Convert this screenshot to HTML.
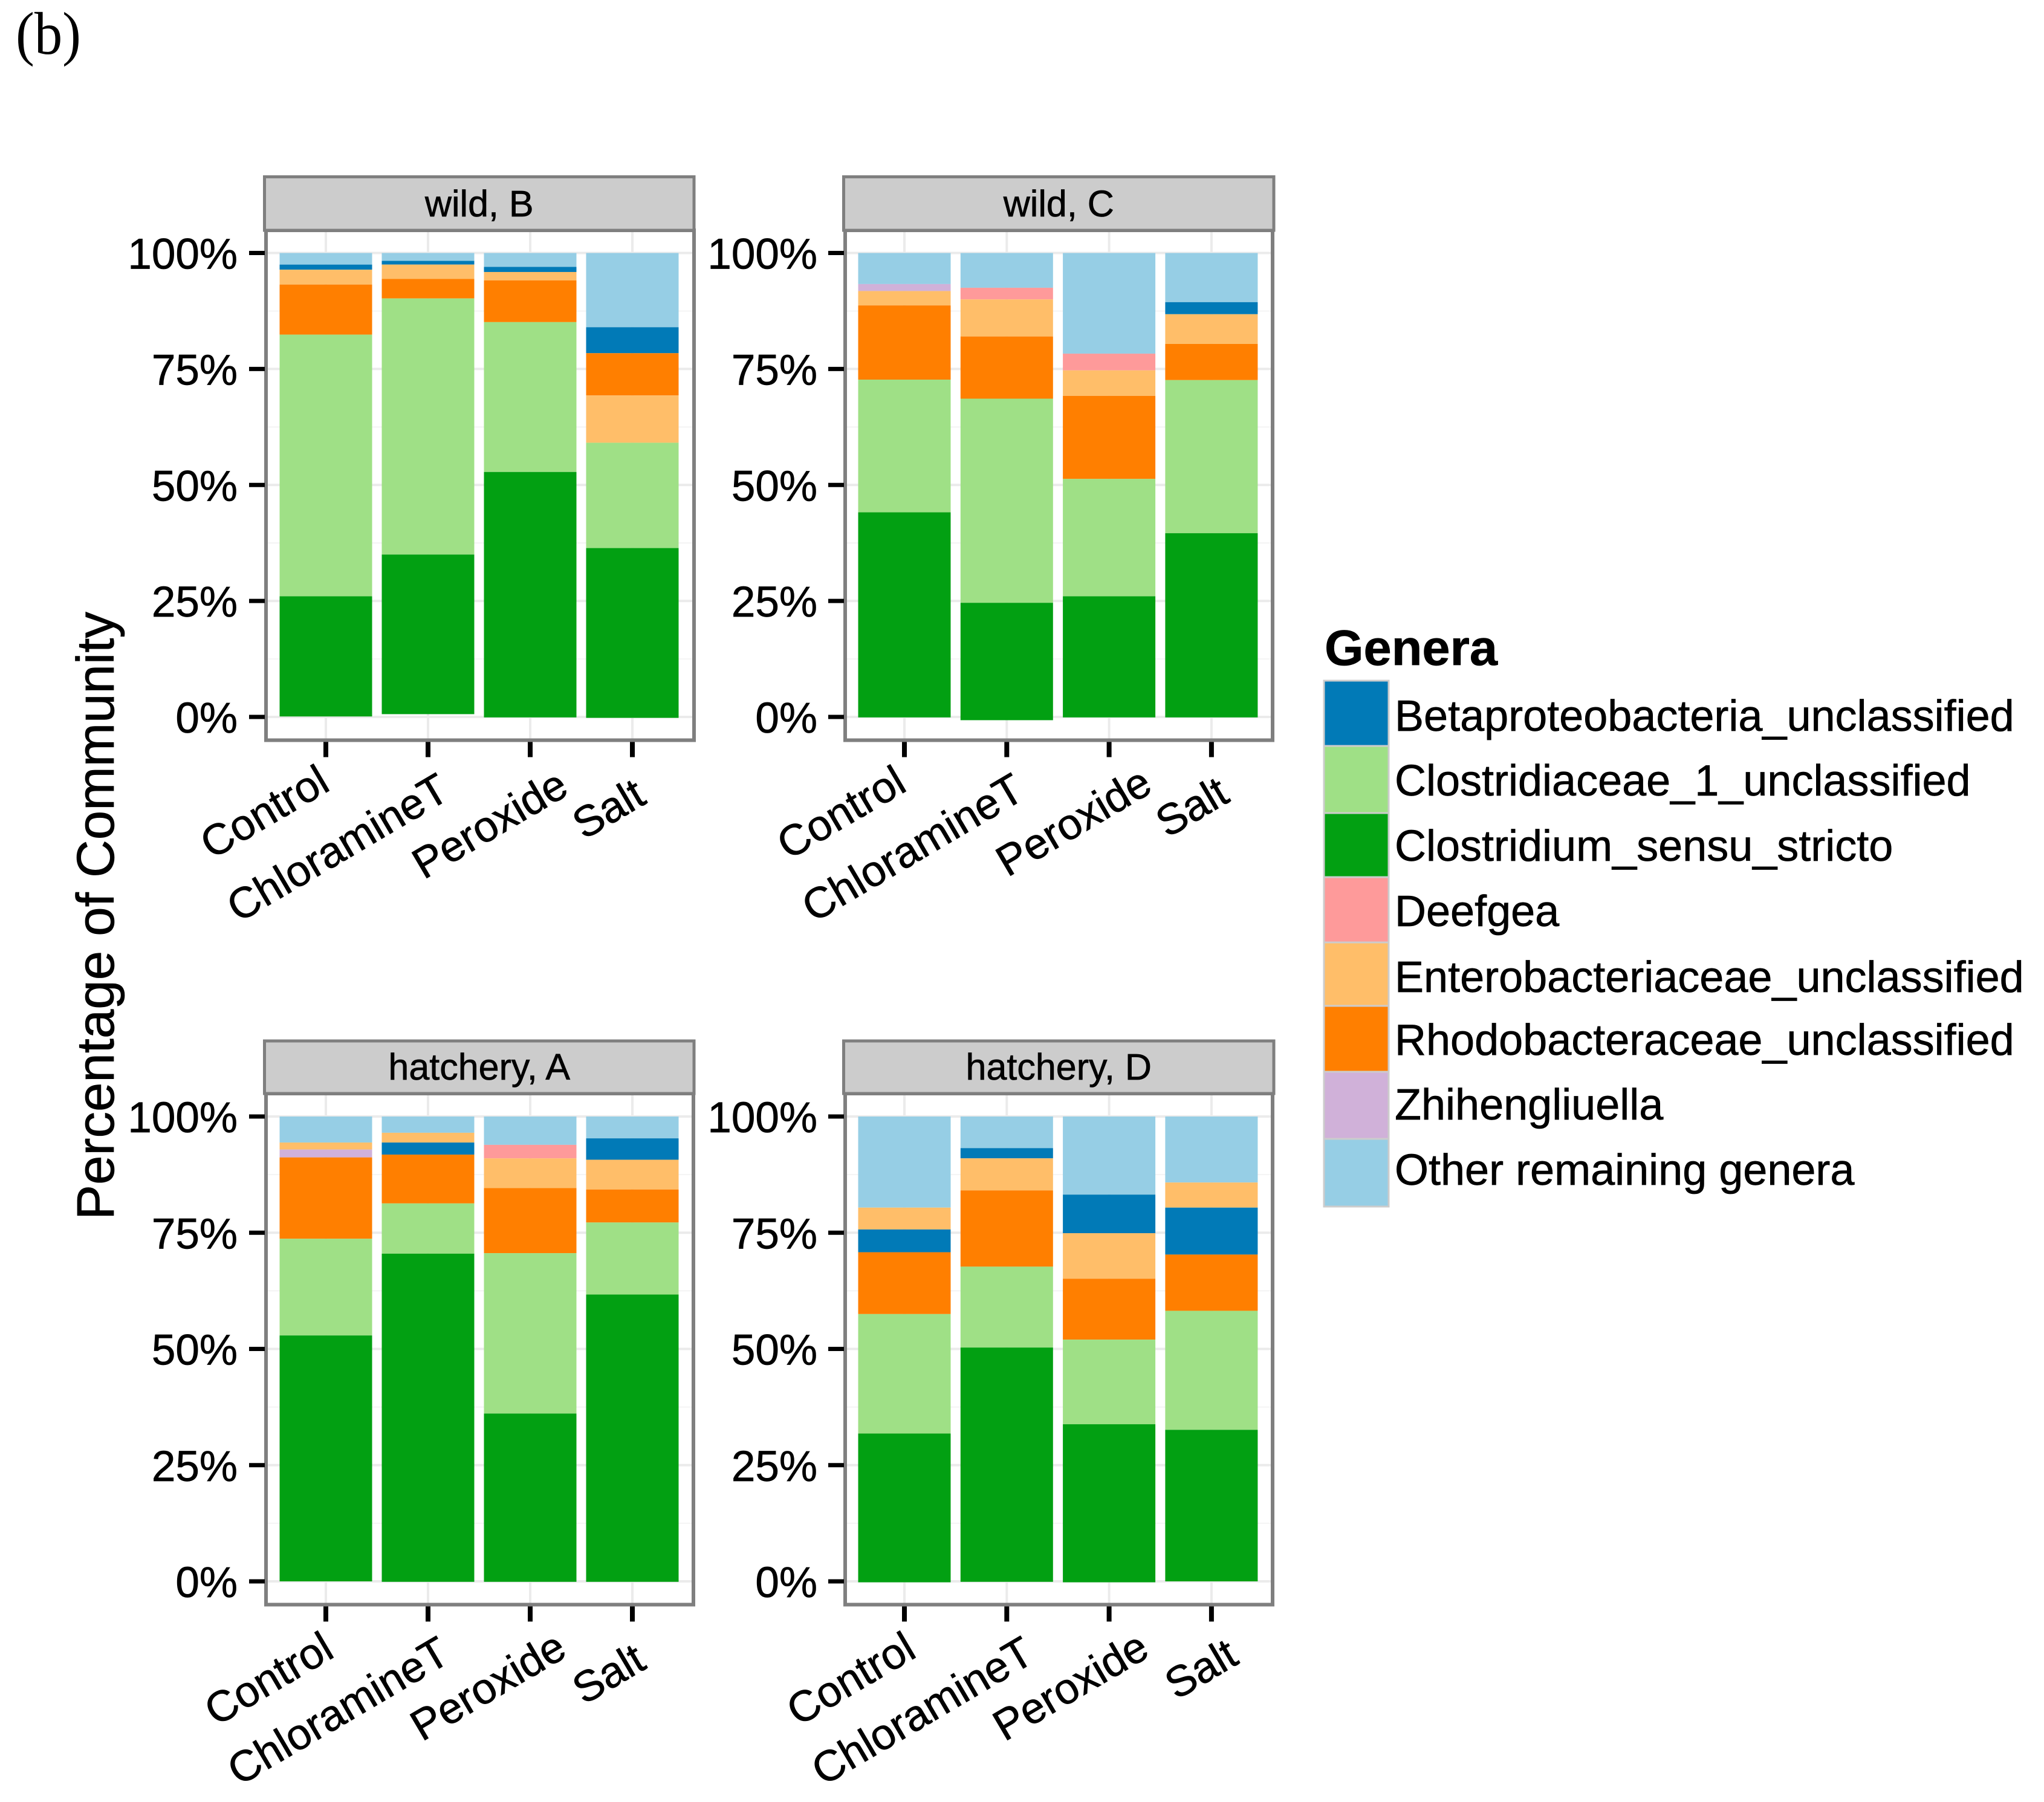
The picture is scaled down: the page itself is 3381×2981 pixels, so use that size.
<!DOCTYPE html>
<html lang="en">
<head>
<meta charset="utf-8">
<title>Genera composition by treatment</title>
<style>
  html, body { margin: 0; padding: 0; background: #ffffff; }
  svg { display: block; }
  text { font-family: "Liberation Sans", sans-serif; fill: #000000; stroke: #000000; stroke-width: 0.7px; }
</style>
</head>
<body>
<svg id="chart" xmlns="http://www.w3.org/2000/svg" width="3381" height="2981" viewBox="0 0 3381 2981">
  <rect x="0" y="0" width="3381" height="2981" fill="#ffffff"/>
  <text x="26" y="89" font-size="100" textLength="108" lengthAdjust="spacingAndGlyphs" style="font-family:'Liberation Serif',serif;stroke-width:0">(b)</text>
  <text transform="translate(188 1515) rotate(-90)" text-anchor="middle" font-size="87">Percentage of Community</text>
</svg>
<script>
// ---- Data (percent of community) ----
const categories = ['Control', 'ChloramineT', 'Peroxide', 'Salt'];
const yTickValues = [0, 25, 50, 75, 100];
const yMinorValues = [12.5, 37.5, 62.5, 87.5];
const legendKeys = ['beta', 'light', 'dark', 'deef', 'entero', 'rhodo', 'zhi', 'other'];
const legendLabels = ['Betaproteobacteria_unclassified', 'Clostridiaceae_1_unclassified', 'Clostridium_sensu_stricto', 'Deefgea', 'Enterobacteriaceae_unclassified', 'Rhodobacteraceae_unclassified', 'Zhihengliuella', 'Other remaining genera'];

// wild, B
const wildB_other  = [2.5, 1.7, 3.0, 16.0];
const wildB_beta   = [1.1, 0.8, 1.1, 5.6];
const wildB_deef   = [0, 0, 0, 0];
const wildB_zhi    = [0, 0, 0, 0];
const wildB_entero = [3.2, 3.1, 1.8, 10.2];
const wildB_rhodo  = [10.8, 4.2, 9.0, 9.1];
const wildB_light  = [56.4, 55.2, 32.3, 22.7];
const wildB_dark   = [25.9, 34.4, 52.9, 36.6];
const wildB_stack  = [
  ['other', 'beta', 'entero', 'rhodo', 'light', 'dark'],
  ['other', 'beta', 'entero', 'rhodo', 'light', 'dark'],
  ['other', 'beta', 'entero', 'rhodo', 'light', 'dark'],
  ['other', 'beta', 'rhodo', 'entero', 'light', 'dark']
];

// wild, C
const wildC_other  = [6.7, 7.5, 21.7, 10.6];
const wildC_beta   = [0, 0, 0, 2.6];
const wildC_deef   = [0, 2.5, 3.6, 0];
const wildC_zhi    = [1.5, 0, 0, 0];
const wildC_entero = [3.1, 8.0, 5.5, 6.4];
const wildC_rhodo  = [16.0, 13.4, 17.9, 7.8];
const wildC_light  = [28.6, 44.0, 25.3, 33.0];
const wildC_dark   = [44.2, 25.3, 26.1, 39.7];
const wildC_stack  = [
  ['other', 'zhi', 'entero', 'rhodo', 'light', 'dark'],
  ['other', 'deef', 'entero', 'rhodo', 'light', 'dark'],
  ['other', 'deef', 'entero', 'rhodo', 'light', 'dark'],
  ['other', 'beta', 'entero', 'rhodo', 'light', 'dark']
];

// hatchery, A
const hatchA_other  = [5.6, 3.5, 6.1, 4.7];
const hatchA_beta   = [0, 2.6, 0, 4.6];
const hatchA_deef   = [0, 0, 2.9, 0];
const hatchA_zhi    = [1.7, 0, 0, 0];
const hatchA_entero = [1.5, 2.1, 6.4, 6.4];
const hatchA_rhodo  = [17.5, 10.5, 14.0, 7.1];
const hatchA_light  = [20.8, 10.8, 34.5, 15.5];
const hatchA_dark   = [52.9, 70.6, 36.2, 61.8];
const hatchA_stack  = [
  ['other', 'entero', 'zhi', 'rhodo', 'light', 'dark'],
  ['other', 'entero', 'beta', 'rhodo', 'light', 'dark'],
  ['other', 'deef', 'entero', 'rhodo', 'light', 'dark'],
  ['other', 'beta', 'entero', 'rhodo', 'light', 'dark']
];

// hatchery, D
const hatchD_other  = [19.6, 6.8, 16.8, 14.2];
const hatchD_beta   = [4.9, 2.2, 8.3, 10.1];
const hatchD_deef   = [0, 0, 0, 0];
const hatchD_zhi    = [0, 0, 0, 0];
const hatchD_entero = [4.7, 6.9, 9.8, 5.4];
const hatchD_rhodo  = [13.3, 16.4, 13.1, 12.1];
const hatchD_light  = [25.7, 17.4, 18.2, 25.6];
const hatchD_dark   = [32.0, 50.4, 34.0, 32.6];
const hatchD_stack  = [
  ['other', 'entero', 'beta', 'rhodo', 'light', 'dark'],
  ['other', 'beta', 'entero', 'rhodo', 'light', 'dark'],
  ['other', 'beta', 'entero', 'rhodo', 'light', 'dark'],
  ['other', 'entero', 'beta', 'rhodo', 'light', 'dark']
];

// ---- Styling and layout ----
const genusColor = {
  beta: '#017ab7', light: '#9fe086', dark: '#02a012', deef: '#fe9a9a',
  entero: '#ffbe69', rhodo: '#ff7f00', zhi: '#d0b1d9', other: '#96cee5'
};

const panelLayouts = [
  { slug: 'wild-b', title: 'wild, B', left: 440, right: 1148, stripL: 437.5, stripR: 1148, stripT: 292.5, top: 381, bottom: 1224.5, y100: 418.5, y0: 1186, firstCenter: 539, step: 169, labelRight: 393,
    tickOffset: [[10, 81], [39, 95], [67, 88], [26, 103]],
    series: { other: wildB_other, beta: wildB_beta, deef: wildB_deef, zhi: wildB_zhi, entero: wildB_entero, rhodo: wildB_rhodo, light: wildB_light, dark: wildB_dark }, stack: wildB_stack },
  { slug: 'wild-c', title: 'wild, C', left: 1398, right: 2105, stripL: 1395.5, stripR: 2107, stripT: 292.5, top: 381, bottom: 1224.5, y100: 418.5, y0: 1186, firstCenter: 1496, step: 169.3, labelRight: 1352,
    tickOffset: [[7, 82], [33, 95], [75, 84], [33, 100]],
    series: { other: wildC_other, beta: wildC_beta, deef: wildC_deef, zhi: wildC_zhi, entero: wildC_entero, rhodo: wildC_rhodo, light: wildC_light, dark: wildC_dark }, stack: wildC_stack },
  { slug: 'hatchery-a', title: 'hatchery, A', left: 440, right: 1147, stripL: 437.5, stripR: 1148, stripT: 1722, top: 1809, bottom: 2654.5, y100: 1847, y0: 2616, firstCenter: 539, step: 169, labelRight: 393,
    tickOffset: [[17, 85], [40, 93], [64, 84], [26, 104]],
    series: { other: hatchA_other, beta: hatchA_beta, deef: hatchA_deef, zhi: hatchA_zhi, entero: hatchA_entero, rhodo: hatchA_rhodo, light: hatchA_light, dark: hatchA_dark }, stack: hatchA_stack },
  { slug: 'hatchery-d', title: 'hatchery, D', left: 1398, right: 2105, stripL: 1395.5, stripR: 2107, stripT: 1722, top: 1809, bottom: 2654.5, y100: 1847, y0: 2616, firstCenter: 1496, step: 169.3, labelRight: 1352,
    tickOffset: [[23, 85], [49, 93], [70, 84], [48, 96]],
    series: { other: hatchD_other, beta: hatchD_beta, deef: hatchD_deef, zhi: hatchD_zhi, entero: hatchD_entero, rhodo: hatchD_rhodo, light: hatchD_light, dark: hatchD_dark }, stack: hatchD_stack }
];

const barWidth = 153;
const NS = 'http://www.w3.org/2000/svg';
const svg = document.getElementById('chart');

function make(tag, parent) {
  const el = document.createElementNS(NS, tag);
  (parent || svg).appendChild(el);
  return el;
}
function line(parent, x1, y1, x2, y2, color, width) {
  const el = make('line', parent);
  el.setAttribute('x1', x1);
  el.setAttribute('y1', y1);
  el.setAttribute('x2', x2);
  el.setAttribute('y2', y2);
  el.setAttribute('stroke', color);
  el.setAttribute('stroke-width', width);
  return el;
}
function box(parent, x, y, w, h, fill) {
  const el = make('rect', parent);
  el.setAttribute('x', x);
  el.setAttribute('y', y);
  el.setAttribute('width', w);
  el.setAttribute('height', h);
  el.setAttribute('fill', fill);
  return el;
}

function drawPanel(p) {
  const yScale = v => p.y0 - (v / 100) * (p.y0 - p.y100);
  const xScale = i => p.firstCenter + i * p.step;

  const g = make('g');
  
  

  // minor grid
  yMinorValues.forEach(v => {
    const el = line(g, p.left, yScale(v), p.right, yScale(v), '#f4f4f4', 2);
    
    
  });
  // major grid
  yTickValues.forEach(v => {
    const el = line(g, p.left, yScale(v), p.right, yScale(v), '#ebebeb', 4);
    
    
  });
  categories.forEach((c, i) => {
    const el = line(g, xScale(i), p.top, xScale(i), p.bottom, '#ebebeb', 4);
    
    
  });

  // stacked bars, drawn from 100% downward in each bar's stacking order
  categories.forEach((c, i) => {
    let running = 100;
    p.stack[i].forEach(key => {
      const value = p.series[key][i];
      const top = yScale(running);
      const bottom = yScale(running - value);
      const seg = box(g, xScale(i) - barWidth / 2, top, barWidth, bottom - top, genusColor[key]);
      
      
      running -= value;
    });
  });

  // panel border
  const frame = box(g, p.left, p.top, p.right - p.left, p.bottom - p.top, 'none');
  frame.setAttribute('stroke', '#7f7f7f');
  frame.setAttribute('stroke-width', 6);
  
  

  // facet strip
  const strip = box(g, p.stripL, p.stripT, p.stripR - p.stripL, p.top - p.stripT, '#cccccc');
  strip.setAttribute('stroke', '#7f7f7f');
  strip.setAttribute('stroke-width', 5);
  
  
  const stripText = make('text', g);
  stripText.setAttribute('x', (p.stripL + p.stripR) / 2);
  stripText.setAttribute('y', p.top - 23);
  stripText.setAttribute('text-anchor', 'middle');
  stripText.setAttribute('font-size', 61);
  stripText.textContent = p.title;
  
  

  // y axis
  yTickValues.forEach(v => {
    const tick = line(g, p.left - 28, yScale(v), p.left - 2, yScale(v), '#000000', 7);
    
    
    const label = make('text', g);
    label.setAttribute('x', p.labelRight);
    label.setAttribute('y', yScale(v) + 26);
    label.setAttribute('text-anchor', 'end');
    label.setAttribute('font-size', 71);
    label.textContent = v + '%';
    
    
  });

  // x axis
  categories.forEach((c, i) => {
    const tick = line(g, xScale(i), p.bottom + 3, xScale(i), p.bottom + 28, '#000000', 8);
    
    
    const label = make('text', g);
    const ax = xScale(i) + p.tickOffset[i][0];
    const ay = p.bottom + p.tickOffset[i][1];
    label.setAttribute('transform', 'translate(' + ax + ' ' + ay + ') rotate(-30.5)');
    label.setAttribute('text-anchor', 'end');
    label.setAttribute('font-size', 71.5);
    label.textContent = c;
    
    
  });
}

panelLayouts.forEach(drawPanel);

// ---- Legend ----
const legendGroup = make('g');



const legendTitle = make('text', legendGroup);
legendTitle.setAttribute('x', 2191);
legendTitle.setAttribute('y', 1100);
legendTitle.setAttribute('font-size', 83);
legendTitle.setAttribute('font-weight', 'bold');
legendTitle.textContent = 'Genera';



// Legend layout (pixels, separate from data): swatch edges and text baselines.
const legendSwatchEdges = [1126, 1234, 1345, 1451, 1559, 1664, 1773, 1884, 1996];
const legendBaselines = [1209, 1316, 1424, 1532, 1641, 1745, 1852, 1960];
legendKeys.forEach((key, i) => {
  const top = legendSwatchEdges[i];
  const swatch = box(legendGroup, 2190, top, 107, legendSwatchEdges[i + 1] - top, genusColor[key]);
  swatch.setAttribute('stroke', '#cccccc');
  swatch.setAttribute('stroke-width', 3);
  
  
  const label = make('text', legendGroup);
  label.setAttribute('x', 2307);
  label.setAttribute('y', legendBaselines[i]);
  label.setAttribute('font-size', 72);
  label.textContent = legendLabels[i];
  
  
});
</script>
</body>
</html>
